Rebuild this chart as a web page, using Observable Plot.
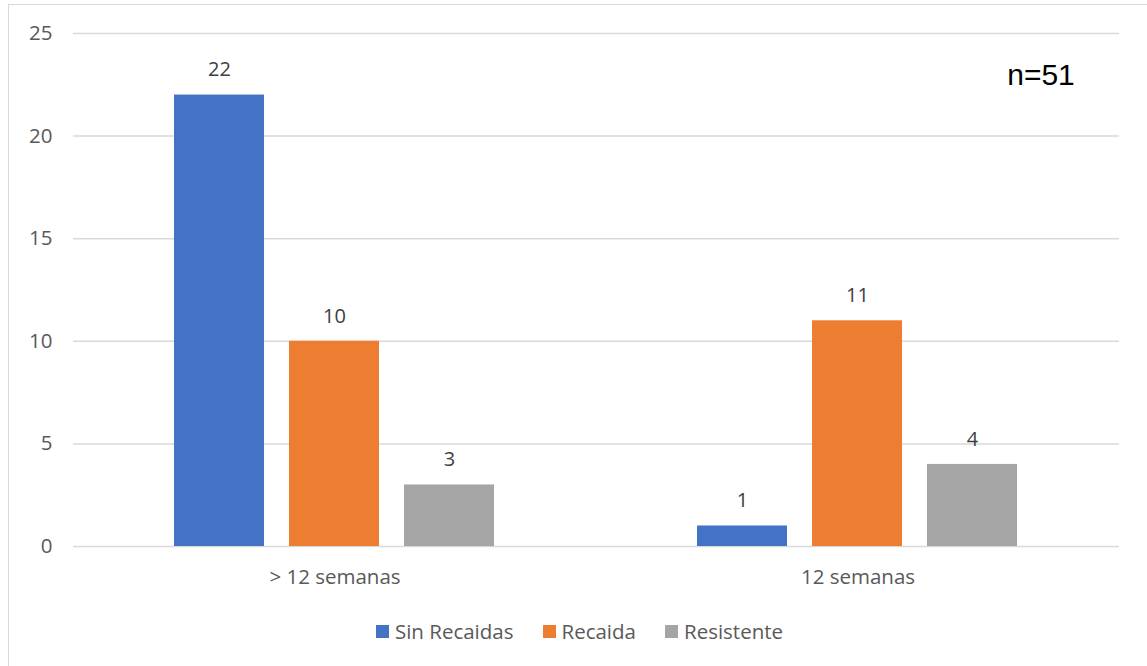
<!DOCTYPE html>
<html>
<head>
<meta charset="utf-8">
<script src="https://cdn.jsdelivr.net/npm/d3@7"></script>
<script src="https://cdn.jsdelivr.net/npm/@observablehq/plot@0.6"></script>
<style>
  html, body { margin: 0; padding: 0; background: #fff; }
  #wrap { position: relative; width: 1147px; height: 666px; overflow: hidden; font-family: "Open Sans", "Noto Sans", sans-serif; }
  #frame { position: absolute; left: 8px; top: 4px; width: 1160px; height: 680px; border: 1.5px solid #d9d9d9; box-sizing: border-box; }
  #chart { position: absolute; left: 0; top: 0; }
  #note { position: absolute; left: 991px; top: 58px; width: 100px; text-align: center; font-family: "Liberation Sans", Arial, sans-serif; font-size: 30px; color: #000; }
  #legend { position: absolute; left: 6px; top: 617px; width: 1147px; display: flex; justify-content: center; gap: 29px; font-size: 20.5px; color: #595959; line-height: 28px; }
  #legend span { display: inline-flex; align-items: center; gap: 6px; }
  #legend i { display: inline-block; width: 13px; height: 13px; }
</style>
</head>
<body>
<div id="wrap">
  <div id="frame"></div>
  <div id="chart"></div>
  <div id="note">n=51</div>
  <div id="legend"></div>
</div>
<script>
const groups = ["> 12 semanas", "12 semanas"];
const series = ["Sin Recaidas", "Recaida", "Resistente"];
const colors = ["#4472c4", "#ed7d31", "#a5a5a5"];
const sinRecaidas = [22, 1];
const recaida = [10, 11];
const resistente = [3, 4];
const yTicks = [0, 5, 10, 15, 20, 25];

const valuesBySeries = [sinRecaidas, recaida, resistente];
const rows = [];
groups.forEach((g, gi) => {
  series.forEach((s, si) => rows.push({group: g, serie: s, value: valuesBySeries[si][gi]}));
});

const chart = Plot.plot({
  width: 1147,
  height: 600,
  marginLeft: 72,
  marginRight: 28,
  marginTop: 33,
  marginBottom: 54,
  style: {fontFamily: "'Open Sans', 'Noto Sans', sans-serif", fontSize: "20.5px", color: "#595959", background: "transparent"},
  fx: {domain: groups, padding: 0, label: null, axis: "bottom", tickSize: 0, tickPadding: 23},
  x: {domain: series, paddingInner: 0.2155, paddingOuter: 0.864, axis: null},
  y: {domain: [0, 25], ticks: yTicks, label: null, tickSize: 0, tickPadding: 21, grid: false},
  color: {domain: series, range: colors},
  marks: [
    Plot.ruleY(yTicks, {stroke: "#d9d9d9", strokeWidth: 1.5}),
    Plot.barY(rows, {fx: "group", x: "serie", y: "value", fill: "serie"}),
    Plot.text(rows, {fx: "group", x: "serie", y: "value", text: d => String(d.value), dy: -25, fill: "#404040", fontSize: 20})
  ]
});
document.getElementById("chart").appendChild(chart);

const legend = d3.select("#legend");
series.forEach((s, i) => {
  const item = legend.append("span");
  item.append("i").style("background", colors[i]);
  item.append("text").text(s);
});
</script>
</body>
</html>
